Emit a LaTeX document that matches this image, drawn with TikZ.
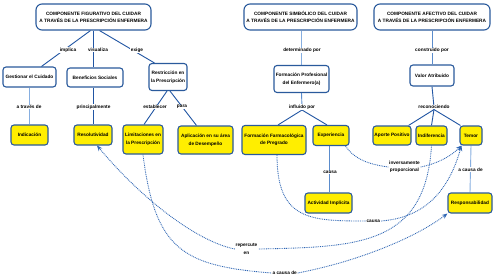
\documentclass[tikz,border=0pt]{standalone}
\usepackage{fontspec}
\setmainfont{Liberation Sans}
\usetikzlibrary{arrows.meta}
\definecolor{bordc}{HTML}{2A5A9C}
\definecolor{dkblue}{HTML}{2155A3}
\definecolor{mdblue}{HTML}{5B8CCC}
\definecolor{ltblue}{HTML}{86AEE0}
\definecolor{dotblue}{HTML}{2F66B5}
\definecolor{boxyellow}{HTML}{FFEE00}
\newcommand\fsz{\fontsize{4.75}{7.5}\selectfont\bfseries}
\pgfdeclarelayer{bg}
\pgfdeclarelayer{lines}
\pgfsetlayers{bg,lines,main}
\begin{document}
\begin{tikzpicture}[x=1pt,y=-1pt,
  every node/.style={font=\fsz},
  topbox/.style={draw=bordc,line width=1.1pt,rounded corners=6pt,fill=white,align=center,inner sep=1pt,minimum height=26pt,font=\fontsize{4.75}{6.8}\selectfont\bfseries},
  wbox/.style={draw=bordc,line width=1.1pt,rounded corners=3pt,fill=white,align=center,inner sep=1pt},
  ybox/.style={wbox,fill=boxyellow},
  lbl/.style={fill=white,inner sep=0.6pt,align=center},
  dk/.style={draw=dkblue,line width=0.9pt},
  md/.style={draw=mdblue,line width=0.9pt},
  lt/.style={draw=ltblue,line width=0.9pt},
  dotl/.style={draw=dotblue,line width=0.85pt,dash pattern=on 0.9pt off 0.9pt},
  tip/.style={-{Stealth[length=5.5pt,width=4.5pt]}}
]
\begin{pgfonlayer}{bg}
\fill[white] (0,0) rectangle (496,279);
\end{pgfonlayer}
\useasboundingbox (0,0) rectangle (496,279);

% top boxes
\node[topbox,minimum width=115pt] (C1) at (93.5,17) {COMPONENTE FIGURATIVO DEL CUIDAR\\A TRAVÉS DE LA PRESCRIPCIÓN ENFERMERA};
\node[topbox,minimum width=113pt] (C2) at (300.5,17) {COMPONENTE SIMBÓLICO DEL CUIDAR\\A TRAVÉS DE LA PRESCRIPCIÓN ENFERMERA};
\node[topbox,minimum width=116pt] (C3) at (432,17) {COMPONENTE AFECTIVO DEL CUIDAR\\A TRAVÉS DE LA PRESCRIPCIÓN ENFERMERA};

% level 2
\node[wbox,minimum width=53pt,minimum height=20pt] (G) at (29.5,77) {Gestionar el Cuidado};
\node[wbox,minimum width=56pt,minimum height=19pt] (B) at (95,77.5) {Beneficios Sociales};
\node[wbox,minimum width=38pt,minimum height=27pt] (R) at (168,77) {Restricción en\\la Prescripción};
\node[wbox,minimum width=55pt,minimum height=27pt] (F) at (301.5,79) {Formación Profesional\\del Enfermero(a)};
\node[wbox,minimum width=44pt,minimum height=21pt] (V) at (432,75.5) {Valor Atribuido};

% level 3
\node[ybox,minimum width=37pt,minimum height=20pt] (Ind) at (29.5,135) {Indicación};
\node[ybox,minimum width=38pt,minimum height=20pt] (Res) at (93,135) {Resolutividad};
\node[ybox,minimum width=40pt,minimum height=29pt] (Lim) at (143,139.5) {Limitaciones en\\la Prescripción};
\node[ybox,minimum width=55pt,minimum height=28pt] (Apl) at (205.5,140) {Aplicación en su área\\de Desempeño};
\node[ybox,minimum width=64pt,minimum height=29pt] (FF) at (274,140) {Formación Farmacológica\\de Pregrado};
\node[ybox,minimum width=36pt,minimum height=20pt] (Exp) at (331,135.5) {Experiencia};
\node[ybox,minimum width=38pt,minimum height=19pt] (AP) at (392,135.5) {Aporte Positivo};
\node[ybox,minimum width=31pt,minimum height=19pt] (Indif) at (431.5,135.5) {Indiferencia};
\node[ybox,minimum width=22pt,minimum height=19pt] (Temor) at (471,135.5) {Temor};
\node[ybox,minimum width=47pt,minimum height=20pt] (AI) at (328.5,203) {Actividad Implícita};
\node[ybox,minimum width=44pt,minimum height=20pt] (Resp) at (470,203) {Responsabilidad};

% labels
\node[lbl] (limpl) at (68,50) {implica};
\node[lbl] (lvis) at (98,50) {visualiza};
\node[lbl] (lexi) at (137,50) {exige};
\node[lbl] (latr) at (29,107) {a través de};
\node[lbl] (lpri) at (93.5,107) {principalmente};
\node[lbl] (lest) at (155,107) {establecer};
\node[lbl] (lpara) at (182,107) {para};
\node[lbl] (ldet) at (302,50.5) {determinado por};
\node[lbl] (linf) at (302,107) {influido por};
\node[lbl] (lcon) at (432,50.5) {construido por};
\node[lbl] (lrec) at (434,107) {reconociendo};
\node[lbl] (lcau) at (330,172.5) {causa};
\node[lbl] (lacd) at (470.5,169.5) {a causa de};
\node[lbl] (linv) at (404.5,167) {inversamente\\proporcional};
\node[lbl] (lcau2) at (373.3,221) {causa};
\node[lbl] (lrep) at (246.5,249) {repercute\\en};
\node[lbl] (lacd2) at (284.7,273) {a causa de};

\begin{pgfonlayer}{lines}
% solid connectors
\draw[dk] ([xshift=-3pt]C1.south) -- ([xshift=12pt]G.north);
\draw[dk] (C1.south) -- (C1.south |- B.north);
\draw[dk] ([xshift=6pt]C1.south) -- ([xshift=6pt]R.north west);
\draw[lt] (G.south) -- (Ind.north);
\draw[dk] (Res.north |- B.south) -- (Res.north);
\draw[dk] ([xshift=-1pt]R.south) -- ([xshift=1pt]Lim.north);
\draw[dk] ([xshift=2pt]R.south) -- ([xshift=-9pt]Apl.north);
\draw[lt] (F.north |- C2.south) -- (F.north);
\draw[md] (F.south) -- (linf.center);
\draw[dk] (linf.south) -- ([xshift=4pt]FF.north);
\draw[dk] (linf.south) -- ([xshift=-4pt]Exp.north);
\draw[md] (C3.south) -- (V.north);
\draw[dk] (V.south) -- (lrec.center);
\draw[dk] (lrec.south) -- ([xshift=-3pt]AP.north east);
\draw[dk] (lrec.south) -- (Indif.north);
\draw[dk] (lrec.south) -- ([xshift=1pt]Temor.north west);
\draw[md] ([xshift=-2pt]Exp.south) -- ([xshift=0.5pt]AI.north);
\draw[lt] (Temor.south) -- (Resp.north);
% dotted connectors
\draw[dotl] ([xshift=-4pt]Exp.south east) .. controls +(10,15) and +(-15,-2) .. (linv.west);
\draw[dotl,tip] (linv.east) .. controls +(15,-3) and +(-12,12) .. ([xshift=2pt]Temor.south west);
\draw[dotl] ([xshift=3pt]FF.south) .. controls +(0,65) and +(-56,0) .. (lcau2.west);
\draw[dotl,tip] (lcau2.east) .. controls +(40,-3) and +(-14,50) .. ([xshift=2pt]Temor.south west);
\draw[dotl] (Indif.south) .. controls +(-6,100) and +(100,-2) .. (lrep.east);
\draw[dotl,tip] (lrep.west) .. controls +(-36,-7) and +(48,57) .. ([xshift=4pt]Res.south);
\draw[dotl] (Lim.south) .. controls +(12,96) and +(-88,-7) .. (lacd2.west);
\draw[dotl,tip] (lacd2.east) .. controls +(53,-10) and +(-36,27) .. (Resp.south west);
\end{pgfonlayer}
\end{tikzpicture}
\end{document}
